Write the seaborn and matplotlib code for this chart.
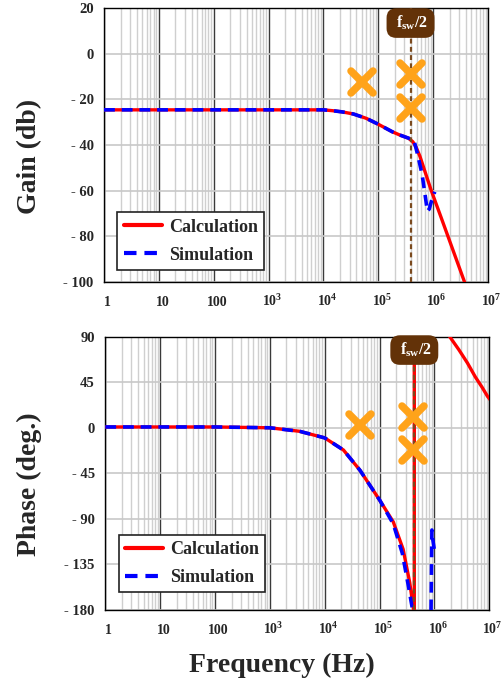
import numpy as np
import pandas as pd
import matplotlib
matplotlib.use("Agg")
import matplotlib.pyplot as plt
import matplotlib.transforms as mtransforms
from matplotlib.markers import MarkerStyle
from matplotlib.ticker import FixedLocator, NullFormatter
import seaborn as sns

# ---------------- data ----------------
gain_calc_freq = [1, 1e4, 1.5e4, 2.2e4, 3.5e4, 6e4, 9.8e4, 1.8e5, 2.45e5, 3.55e5, 4.27e5,
                  4.9e5, 5.75e5, 9.1e5, 1.41e6, 3.8e6]
gain_calc_db = [-24.6, -24.6, -25.0, -25.5, -26.4, -28.3, -30.8, -34.2, -35.6, -37.0, -38.6,
                -41.0, -45.0, -59.5, -72.0, -100.5]

gain_sim_freq = [1, 1e4, 1.5e4, 2.2e4, 3.5e4, 6e4, 9.8e4, 1.8e5, 2.45e5, 3.55e5, 4.47e5,
                 5.25e5, 6.3e5, 7.24e5, 7.85e5, 8.5e5, 9.33e5, 1.07e6]
gain_sim_db = [-24.6, -24.6, -25.0, -25.5, -26.4, -28.3, -30.8, -34.2, -35.6, -37.0, -38.0,
               -44.5, -53.0, -63.0, -69.0, -68.0, -64.5, -60.5]

phase_calc_freq = [1, 100, 1e3, 3.5e3, 1e4, 2.2e4, 4.4e4, 1.02e5, 1.78e5, 2.69e5,
                   3.55e5, 4.3e5, 4.3e5, 1.9e6, 2.8e6, 4.0e6, 5.6e6, 7.4e6, 9.3e6, 1.1e7]
phase_calc_deg = [0.8, 0.8, 0.0, -3.5, -10, -22, -42, -72, -93, -120,
                  -153, -185, 185, 90, 77, 64, 50, 40, 31, 26]

phase_sim_freq = [1, 100, 1e3, 3.5e3, 1e4, 2.2e4, 4.4e4, 1.02e5, 1.78e5, 2.6e5,
                  3.4e5, 4.0e5, 4.2e5, 8.6e5, 9.0e5, 9.2e5, 1.0e6]
phase_sim_deg = [0.8, 0.8, 0.0, -3.5, -10, -22, -42, -72, -95, -124,
                 -158, -180, -200, -200, -101, -108, -121]

marker_gain_freq = [5.0e4, 4.0e5, 4.0e5]
marker_gain_db = [-12.2, -8.8, -23.9]
marker_phase_freq = [4.4e4, 4.0e5, 4.0e5]
marker_phase_deg = [2.7, 11, -22]

fsw_half_gain = 3.87e5
fsw_half_phase = 4.3e5

x_ticks = [1, 10, 100, 1e3, 1e4, 1e5, 1e6, 1e7]
x_tick_labels = ["1", "10", "100", r"$\mathbf{10^{3}}$", r"$\mathbf{10^{4}}$",
                 r"$\mathbf{10^{5}}$", r"$\mathbf{10^{6}}$", r"$\mathbf{10^{7}}$"]
gain_ticks = [20, 0, -20, -40, -60, -80, -100]
gain_tick_labels = ["20", "0", "- 20", "- 40", "- 60", "- 80", "- 100"]
phase_ticks = [90, 45, 0, -45, -90, -135, -180]
phase_tick_labels = ["90", "45", "0", "- 45", "- 90", "- 135", "- 180"]

# ---------------- style ----------------
sns.set_style("white")
plt.rcParams["font.family"] = ["Liberation Serif", "DejaVu Serif"]
plt.rcParams["font.weight"] = "bold"
plt.rcParams["mathtext.fontset"] = "custom"
plt.rcParams["mathtext.rm"] = "Liberation Serif:bold"
plt.rcParams["mathtext.bf"] = "Liberation Serif:bold"
plt.rcParams["mathtext.it"] = "Liberation Serif:bold"

RED = "#FF0000"
BLUE = "#0000FF"
ORANGE = "#FFA31A"
BROWN_BOX = "#633208"
BROWN_LINE = "#7B4A1E"

fig = plt.figure(figsize=(5.03, 6.84), dpi=100)
ax1 = fig.add_axes([0.2068, 0.5877, 0.7634, 0.4006])
ax2 = fig.add_axes([0.2093, 0.1082, 0.7634, 0.3996])

df_gc = pd.DataFrame({"f": gain_calc_freq, "v": gain_calc_db})
df_gs = pd.DataFrame({"f": gain_sim_freq, "v": gain_sim_db})
df_pc = pd.DataFrame({"f": phase_calc_freq, "v": phase_calc_deg})
df_ps = pd.DataFrame({"f": phase_sim_freq, "v": phase_sim_deg})


def style_axes(ax, yticks, ylabels, ylim):
    ax.set_xscale("log")
    ax.set_xlim(1, 1e7)
    ax.set_ylim(*ylim)
    ax.xaxis.set_major_locator(FixedLocator(x_ticks))
    minors = [m * 10 ** d for d in range(0, 7) for m in range(2, 10)]
    ax.xaxis.set_minor_locator(FixedLocator(minors))
    ax.xaxis.set_minor_formatter(NullFormatter())
    ax.set_xticks(x_ticks)
    ax.set_xticklabels(x_tick_labels, fontsize=10, fontweight="bold")
    ax.set_yticks(yticks)
    ax.set_yticklabels(ylabels, fontsize=10.5, fontweight="bold")
    ax.tick_params(axis="x", which="both", length=0, pad=17.5)
    ax.tick_params(axis="y", which="both", length=0, pad=7.5)
    shift = mtransforms.ScaledTranslation(2.5 / 72, 0, fig.dpi_scale_trans)
    for lab in ax.get_xticklabels():
        lab.set_va("baseline")
        lab.set_transform(lab.get_transform() + shift)
    ax.grid(which="minor", axis="x", color="#cfcfcf", lw=1.0)
    ax.grid(which="major", axis="x", color="#3a3a3a", lw=1.0)
    ax.grid(which="major", axis="y", color="#c8c8c8", lw=1.2)
    ax.set_axisbelow(True)
    for s in ax.spines.values():
        s.set_color("black")
        s.set_linewidth(1.0)
        s.set_visible(True)


xmark = MarkerStyle("x", capstyle="round")


def draw(ax, dcalc, dsim, mf, mv, fsw, ybox, legy):
    sns.lineplot(data=dcalc, x="f", y="v", ax=ax, color=RED, lw=2.4,
                 estimator=None, sort=False, label="Calculation", zorder=3)
    sns.lineplot(data=dsim, x="f", y="v", ax=ax, color=BLUE, lw=2.6,
                 estimator=None, sort=False, label="Simulation", zorder=4,
                 dashes=False, linestyle=(0, (3.0, 1.9)))
    ax.axvline(fsw, color=BROWN_LINE, lw=1.6, ls=(0, (2.2, 1.5)), zorder=5)
    ax.plot(mf, mv, linestyle="none", marker=xmark, markersize=16,
            markeredgewidth=5.4, color=ORANGE, zorder=6)
    trans = mtransforms.blended_transform_factory(ax.transData, ax.transAxes)
    ax.text(fsw, ybox, r" $\mathbf{f_{sw}/2}$ ", transform=trans, ha="center",
            va="center", color="white", fontsize=11.5, zorder=10,
            bbox=dict(boxstyle="round,pad=0.35,rounding_size=0.6",
                      fc=BROWN_BOX, ec="none"))
    leg = ax.legend(loc="lower left", bbox_to_anchor=(0.035, legy),
                    borderaxespad=0, fancybox=False, framealpha=1,
                    edgecolor="#222222", fontsize=13, handlelength=2.1,
                    handletextpad=0.4, labelspacing=0.6, borderpad=0.35,
                    prop={"weight": "bold", "size": 13})
    leg.get_frame().set_linewidth(1.2)
    for h in leg.get_lines():
        h.set_linewidth(3.0)
    leg.set_zorder(20)
    ax.set_xlabel("")


draw(ax1, df_gc, df_gs, marker_gain_freq, marker_gain_db, fsw_half_gain, 0.945, 0.044)
draw(ax2, df_pc, df_ps, marker_phase_freq, marker_phase_deg, fsw_half_phase, 0.951, 0.065)

style_axes(ax1, gain_ticks, gain_tick_labels, (-100, 20))
style_axes(ax2, phase_ticks, phase_tick_labels, (-180, 90))

ax1.set_ylabel("Gain (db)", fontsize=20, fontweight="bold")
ax1.yaxis.set_label_coords(-0.161, 0.458)
ax2.set_ylabel("Phase (deg.)", fontsize=20, fontweight="bold")
ax2.yaxis.set_label_coords(-0.165, 0.461)
ax2.set_xlabel("Frequency (Hz)", fontsize=20, fontweight="bold")
ax2.xaxis.set_label_coords(0.459, -0.157)

fig.savefig("out.png", dpi=100)
